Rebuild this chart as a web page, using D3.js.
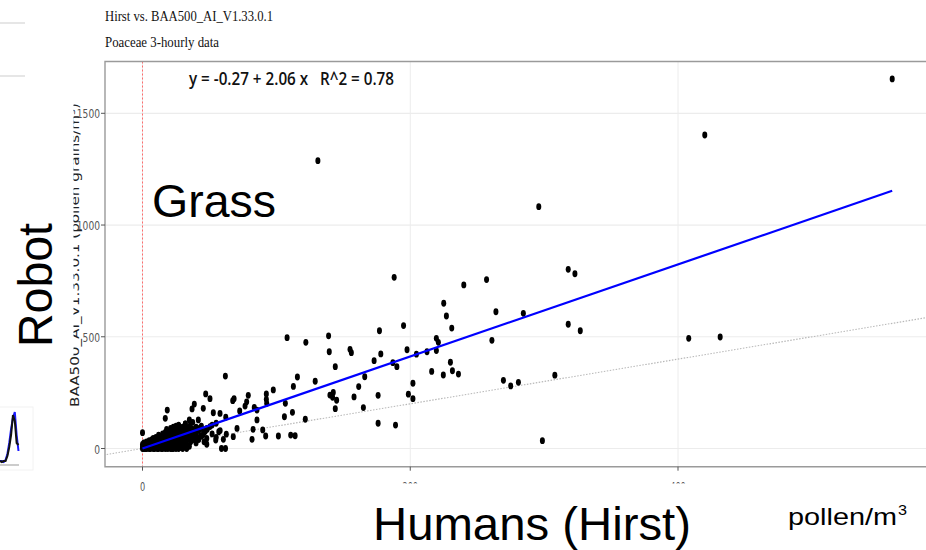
<!DOCTYPE html>
<html>
<head>
<meta charset="utf-8">
<script src="https://cdn.jsdelivr.net/npm/d3@7"></script>
<style>
html,body{margin:0;padding:0;background:#fff;}
svg{display:block;}
</style>
</head>
<body>
<svg id="chart" width="926" height="550"></svg>
<script>
// ---------- DATA ----------
const titleText = "Hirst vs. BAA500_AI_V1.33.0.1";
const subtitleText = "Poaceae 3-hourly data";
const equationText = "y = -0.27 + 2.06 x   R^2 = 0.78";
const yAxisTitle = "BAA500_AI_V1.33.0.1 (pollen grains/m\u00B3)";
const xTicks = [0, 200, 400];
const yTicks = [0, 500, 1000, 1500];
const fitIntercept = -0.27;
const fitSlope = 2.06;
const fitRange = [0, 560];

// Hirst (x) values
const hirst = [
  // dense cluster near origin
  0,0,0,0, 0.5, 1,1,1, 2,2,2, 3,3,3, 4,4,4, 5,5,5, 6,6,6, 7,7,7, 8,8,8, 9,9,9,
  10,10,10, 11,11,11, 12,12,12,12, 13,13,13, 14,14,14, 15,15,15,15, 16,16,16,
  17,17,17, 18,18,18,18, 19,19,19, 20,20,20, 21,21,21,21, 22,22,22, 23,23,23,23,
  24,24,24, 25,25,25,25, 26,26,26, 27,27,27,27, 28,28,28, 29,29,29, 30,30,30,30,
  31,31,31, 32,32,32, 33,33,33, 34,34, 35,35,35, 36,36,36, 38,38, 40,40,40, 42,42,
  44,44, 46,46, 48,48, 52,52, 55, 58,
  // extra fill in the cluster
  1.5,3.5,5.5,7.5,9.5,11.5,13.5,15.5,17.5,19.5,21.5,23.5,25.5,27.5,29.5,31.5,33.5,
  2.5,6.5,10.5,14.5,18.5,22.5,26.5,30.5,34.5,37,39,41,43,45,47,
  // scattered low-mid region
  17,18.5,22,20.5,25.8,29.3,32,33,35,36,37,37.5,38.7,39,40,41.7,43.5,44,45.4,47.2,
  48,48.4,50.4,50.4,52.9,54.7,55,57,57.9,59,60.4,61.9,62,62.2,62.6,67.4,67.8,68.4,
  70.6,72.6,76.6,77.8,79,81.8,82.6,83.5,85.5,85.5,89.8,92,92.5,92.5,92.8,97.7,
  101.5,106,106.7,108,110.7,112,112.7,114,115.7,
  // mid region
  121.6,122,129,131,139,139.5,140,142,142.5,144,144,145,155,156,158,161.5,165,166,
  173,176,176,177,178,187,188,189,190,195,197.6,198.6,202,202,204.6,212.5,216,
  219.5,219.5,221,224.7,225,227,230,231,231.5,236,240,257,261,264,269.6,275,280.8,
  284.5,298.7,308,318,318,323,327,
  // outliers
  296,408,420,431.5,560
];
// Robot (y) values
const robot = [
  0,8,18,71, 3, 0,12,25, 0,6,20, 0,15,30, 2,10,24, 0,18,35, 0,8,28, 4,15,40, 0,22,45, 0,10,32,
  3,18,50, 0,28,42, 0,12,36,60, 5,22,55, 0,30,48, 0,14,40,65, 8,25,58,
  0,35,72, 2,18,48,85, 0,28,62, 10,40,78, 0,22,55,90, 5,32,68, 0,15,45,95,
  8,38,75, 0,25,58,100, 12,48,82, 0,30,65,105, 18,52,88, 5,40,72, 0,28,60,95,
  15,45,80, 35,68,110, 20,55,90, 42,75, 10,62,98, 30,85,115, 48,70, 25,60,95, 40,80,
  55,100, 30,70, 45,90, 65,105, 50, 80,
  5,12,20,28,35,42,50,58,66,72,80,86,92,98,84,76,68,
  2,6,10,16,22,30,38,46,54,88,66,50,92,60,78,
  135,172,0,30,38,53,110,0,128,53,177,117,199,38,78,128,56,89,180,244,
  19,86,223,98,160,38,113,75,157,0,41,324,0,140,64,214,53,223,
  90,168,190,209,238,41,86,184,172,128,83,56,244,220,202,262,
  56,142,202,496,60,162,278,57,320,
  131,475,301,1288,504,433,239,229,251,366,178,216,444,429,231,277,183,321,
  393,238,113,527,423,384,766,105,366,550,442,243,292,223,422,433,345,
  493,438,475,329,650,593,386,539,348,333,732,756,484,612,305,280,296,
  605,35,328,556,802,782,527,
  1082,493,1403,499,1654
];

// small thumbnail sketch at the left edge (decorative fragment)
const thumbIdx = [0,1,2,3,4,5,6,7,8,9,10];
const thumbBlack = [4,3,4,4,9,18,30,50,44,22,20];
const thumbBlue  = [4,4,3,5,11,22,36,47,53,30,14];

// ---------- DRAW ----------
const svg = d3.select("#chart");

const x = d3.scaleLinear().domain([0, 400]).range([142.5, 678]);
const y = d3.scaleLinear().domain([0, 1500]).range([448.5, 113.3]);

const panel = {left: 105, top: 61.5, right: 950, bottom: 466.7};

// left-edge fragments
svg.append("line").attr("x1",0).attr("x2",25).attr("y1",23).attr("y2",23)
  .attr("stroke","#e6e6e6").attr("stroke-width",2);
svg.append("line").attr("x1",0).attr("x2",25).attr("y1",76).attr("y2",76)
  .attr("stroke","#e6e6e6").attr("stroke-width",2);

const tx = d3.scaleLinear().domain([0,10]).range([0,18.5]);
const ty = d3.scaleLinear().domain([0,60]).range([465,405]);
svg.append("rect").attr("x",-1).attr("y",407).attr("width",34).attr("height",63)
  .attr("fill","none").attr("stroke","#f2f2f2");
svg.append("line").attr("x1",0).attr("x2",19).attr("y1",465).attr("y2",465)
  .attr("stroke","#999").attr("stroke-width",1);
const tline = d3.line().x((d,i)=>tx(thumbIdx[i]));
svg.append("path").attr("d", tline.y(d=>ty(d))(thumbBlue))
  .attr("fill","none").attr("stroke","#1a1aff").attr("stroke-width",2);
svg.append("path").attr("d", tline.y(d=>ty(d))(thumbBlack))
  .attr("fill","none").attr("stroke","#111").attr("stroke-width",2);

// titles
svg.append("text").attr("x",105).attr("y",21).text(titleText)
  .attr("font-family","Liberation Serif").attr("font-size",15.5)
  .attr("textLength",168).attr("lengthAdjust","spacingAndGlyphs").attr("fill","#111");
svg.append("text").attr("x",105).attr("y",47).text(subtitleText)
  .attr("font-family","Liberation Serif").attr("font-size",15.5)
  .attr("textLength",114).attr("lengthAdjust","spacingAndGlyphs").attr("fill","#111");

// clip
svg.append("clipPath").attr("id","clip").append("rect")
  .attr("x",panel.left).attr("y",panel.top)
  .attr("width",panel.right-panel.left).attr("height",panel.bottom-panel.top);

const g = svg.append("g").attr("clip-path","url(#clip)");

// gridlines
g.selectAll(".gx").data(xTicks).enter().append("line")
  .attr("x1",d=>x(d)).attr("x2",d=>x(d)).attr("y1",panel.top).attr("y2",panel.bottom)
  .attr("stroke","#ececec").attr("stroke-width",1);
g.selectAll(".gy").data(yTicks).enter().append("line")
  .attr("x1",panel.left).attr("x2",panel.right).attr("y1",d=>y(d)).attr("y2",d=>y(d))
  .attr("stroke","#ececec").attr("stroke-width",1.2);

// 1:1 dotted line
g.append("line")
  .attr("x1",x(-40)).attr("y1",y(-40)).attr("x2",x(700)).attr("y2",y(700))
  .attr("stroke","#b8b8b8").attr("stroke-width",1.1).attr("stroke-dasharray","1.5,1.5");

// red dashed line at x = 0
g.append("line")
  .attr("x1",x(0)).attr("x2",x(0)).attr("y1",panel.top).attr("y2",panel.bottom)
  .attr("stroke","#ff6b6b").attr("stroke-width",1).attr("stroke-dasharray","2,2");

// points
g.selectAll(".pt").data(hirst.map((h,i)=>[h, robot[i]])).enter().append("ellipse")
  .attr("cx",d=>x(d[0])).attr("cy",d=>y(d[1]))
  .attr("rx",2.5).attr("ry",3.4).attr("fill","#000");

// regression line
g.append("line")
  .attr("x1",x(fitRange[0])).attr("y1",y(fitIntercept+fitSlope*fitRange[0]))
  .attr("x2",x(fitRange[1])).attr("y2",y(fitIntercept+fitSlope*fitRange[1]))
  .attr("stroke","#0000ff").attr("stroke-width",2.2);

// panel border
svg.append("path")
  .attr("d",`M${panel.right},${panel.top}H${panel.left}V${panel.bottom}H${panel.right}`)
  .attr("fill","none").attr("stroke","#9a9a9a").attr("stroke-width",1.4);

// y axis ticks & labels
svg.selectAll(".yt").data(yTicks).enter().append("line")
  .attr("x1",101).attr("x2",panel.left).attr("y1",d=>y(d)).attr("y2",d=>y(d))
  .attr("stroke","#555").attr("stroke-width",1);
svg.selectAll(".yl").data(yTicks).enter().append("text")
  .attr("x",100).attr("y",d=>y(d)+5).attr("text-anchor","end")
  .text(d=>d3.format("d")(d))
  .attr("font-family","DejaVu Sans").attr("font-size",13)
  .attr("textLength",d=>String(d).length*5.8).attr("lengthAdjust","spacingAndGlyphs")
  .attr("fill","#555");

// x axis ticks & labels
svg.selectAll(".xt").data(xTicks).enter().append("line")
  .attr("x1",d=>x(d)).attr("x2",d=>x(d)).attr("y1",panel.bottom).attr("y2",panel.bottom+4)
  .attr("stroke","#555").attr("stroke-width",1);
svg.selectAll(".xl").data(xTicks).enter().append("text")
  .attr("x",d=>x(d)).attr("y",491).attr("text-anchor","middle")
  .text(d=>d3.format("d")(d))
  .attr("font-family","DejaVu Sans").attr("font-size",13)
  .attr("textLength",d=>String(d).length*5.2).attr("lengthAdjust","spacingAndGlyphs")
  .attr("fill","#555");

// y axis title (rotated)
svg.append("text")
  .attr("transform","translate(79,255) rotate(-90)")
  .attr("text-anchor","middle").text(yAxisTitle)
  .attr("font-family","DejaVu Sans").attr("font-size",13)
  .attr("textLength",304).attr("lengthAdjust","spacingAndGlyphs").attr("fill","#222");

// equation
svg.append("text").attr("x",189).attr("y",85).text(equationText)
  .attr("font-family","Open Sans").attr("font-size",18).attr("font-weight",600)
  .attr("textLength",205).attr("lengthAdjust","spacingAndGlyphs").attr("fill","#111")
  .style("white-space","pre");

// overlay boxes (slide annotations covering parts of the plot image)
svg.append("rect").attr("x",0).attr("y",100).attr("width",73.5).attr("height",255).attr("fill","#fff");
svg.append("rect").attr("x",300).attr("y",483.5).attr("width",626).attr("height",70).attr("fill","#fff");

// slide annotations
svg.append("text").attr("x",152).attr("y",216.5).text("Grass")
  .attr("font-family","Liberation Sans").attr("font-size",46).attr("fill","#000")
  .attr("textLength",124).attr("lengthAdjust","spacingAndGlyphs");
svg.append("text").attr("transform","translate(52,285) rotate(-90)")
  .attr("text-anchor","middle").text("Robot")
  .attr("font-family","Liberation Sans").attr("font-size",48).attr("fill","#000")
  .attr("textLength",124).attr("lengthAdjust","spacingAndGlyphs");
svg.append("text").attr("x",373).attr("y",540).text("Humans (Hirst)")
  .attr("font-family","Liberation Sans").attr("font-size",47).attr("fill","#000")
  .attr("textLength",318).attr("lengthAdjust","spacingAndGlyphs");
svg.append("text").attr("x",788).attr("y",525).text("pollen/m")
  .attr("font-family","Liberation Sans").attr("font-size",24).attr("fill","#000")
  .attr("textLength",109).attr("lengthAdjust","spacingAndGlyphs");
svg.append("text").attr("x",898).attr("y",515).text("3")
  .attr("font-family","Liberation Sans").attr("font-size",15).attr("fill","#000")
  .attr("textLength",9).attr("lengthAdjust","spacingAndGlyphs");
</script>
</body>
</html>
